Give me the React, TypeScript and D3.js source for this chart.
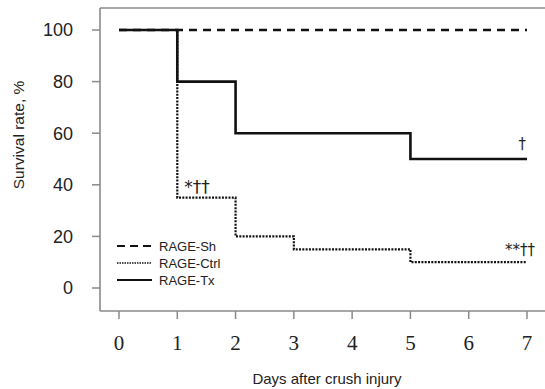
import React from 'react';
import * as d3 from 'd3';

// Kaplan-Meier style step data (day, survival %)
const days = [0, 1, 2, 3, 4, 5, 6, 7];
const shamValues = [100, 100, 100, 100, 100, 100, 100, 100];
const ctrlValues = [100, 35, 20, 15, 15, 10, 10, 10];
const txValues = [100, 80, 60, 60, 60, 50, 50, 50];
const yTicks = [0, 20, 40, 60, 80, 100];
const seriesNames = ['RAGE-Sh', 'RAGE-Ctrl', 'RAGE-Tx'];

const W = 545;
const H = 389;

const App: React.FC = () => {
  const x = d3.scaleLinear().domain([0, 7]).range([119, 527]);
  const y = d3.scaleLinear().domain([0, 100]).range([288, 30]);
  const axisLeft = 100;
  const axisBottom = 311;
  const top = 8;

  const step = d3
    .line<number>()
    .x((d, i) => x(days[i]))
    .y((d) => y(d))
    .curve(d3.curveStepAfter);

  const styles = [
    { dash: '8,6', width: 2.4 },
    { dash: '2,1.3', width: 2.2 },
    { dash: null, width: 2.6 },
  ];
  const series = [shamValues, ctrlValues, txValues];

  return (
    <svg width={W} height={H} style={{ position: 'absolute', left: 0, top: 0, background: '#fff' }}>
      {/* frame */}
      <line x1={axisLeft} x2={W} y1={top} y2={top} stroke="#8a8a8a" strokeWidth={1.6} />
      <line x1={axisLeft} x2={axisLeft} y1={top} y2={axisBottom} stroke="#8a8a8a" strokeWidth={1.6} />
      <line x1={axisLeft} x2={W} y1={axisBottom} y2={axisBottom} stroke="#8a8a8a" strokeWidth={1.6} />

      {/* y ticks */}
      {yTicks.map((t) => (
        <g key={t}>
          <line x1={axisLeft - 8} x2={axisLeft} y1={y(t)} y2={y(t)} stroke="#8a8a8a" strokeWidth={1.5} />
          <text
            x={73}
            y={y(t)}
            dy="0.35em"
            textAnchor="end"
            fontFamily="Liberation Sans, Arial, sans-serif"
            fontSize={18}
            fill="#222"
          >
            {t}
          </text>
        </g>
      ))}

      {/* x ticks */}
      {days.map((d) => (
        <g key={d}>
          <line x1={x(d)} x2={x(d)} y1={axisBottom} y2={axisBottom + 8} stroke="#8a8a8a" strokeWidth={1.5} />
          <text
            x={x(d)}
            y={350}
            textAnchor="middle"
            fontFamily="Liberation Serif, Times New Roman, serif"
            fontSize={21}
            fill="#222"
          >
            {d}
          </text>
        </g>
      ))}

      {/* axis titles */}
      <text
        x={327}
        y={384}
        textAnchor="middle"
        fontFamily="Liberation Sans, Arial, sans-serif"
        fontSize={15}
        fill="#222"
      >
        Days after crush injury
      </text>
      <text
        transform="translate(24,135) rotate(-90)"
        textAnchor="middle"
        fontFamily="Liberation Sans, Arial, sans-serif"
        fontSize={15.5}
        fill="#222"
      >
        Survival rate, %
      </text>

      {/* step lines */}
      {series.map((vals, i) => (
        <path
          key={i}
          d={step(vals) || ''}
          fill="none"
          stroke="#111"
          strokeWidth={styles[i].width}
          strokeDasharray={styles[i].dash || undefined}
        />
      ))}

      {/* annotations */}
      <text x={x(1) + 7} y={y(35) - 5} fontFamily="DejaVu Sans, sans-serif" fontSize={17} fill="#222">
        *††
      </text>
      <text x={x(7) - 1} y={y(50) - 10} textAnchor="end" fontFamily="DejaVu Sans, sans-serif" fontSize={15} fill="#222">
        †
      </text>
      <text x={x(7) + 8} y={y(10) - 7} textAnchor="end" fontFamily="DejaVu Sans, sans-serif" fontSize={15} fill="#222">
        **††
      </text>

      {/* legend */}
      {seriesNames.map((name, i) => {
        const ly = 246 + i * 17;
        return (
          <g key={name}>
            <line
              x1={117}
              x2={152}
              y1={ly}
              y2={ly}
              stroke="#111"
              strokeWidth={i === 1 ? 1.6 : 2}
              strokeDasharray={i === 0 ? '8,5' : i === 1 ? '1.5,1' : undefined}
            />
            <text
              x={159}
              y={ly}
              dy="0.35em"
              fontFamily="Liberation Sans, Arial, sans-serif"
              fontSize={13}
              fill="#222"
            >
              {name}
            </text>
          </g>
        );
      })}
    </svg>
  );
};

export default App;
